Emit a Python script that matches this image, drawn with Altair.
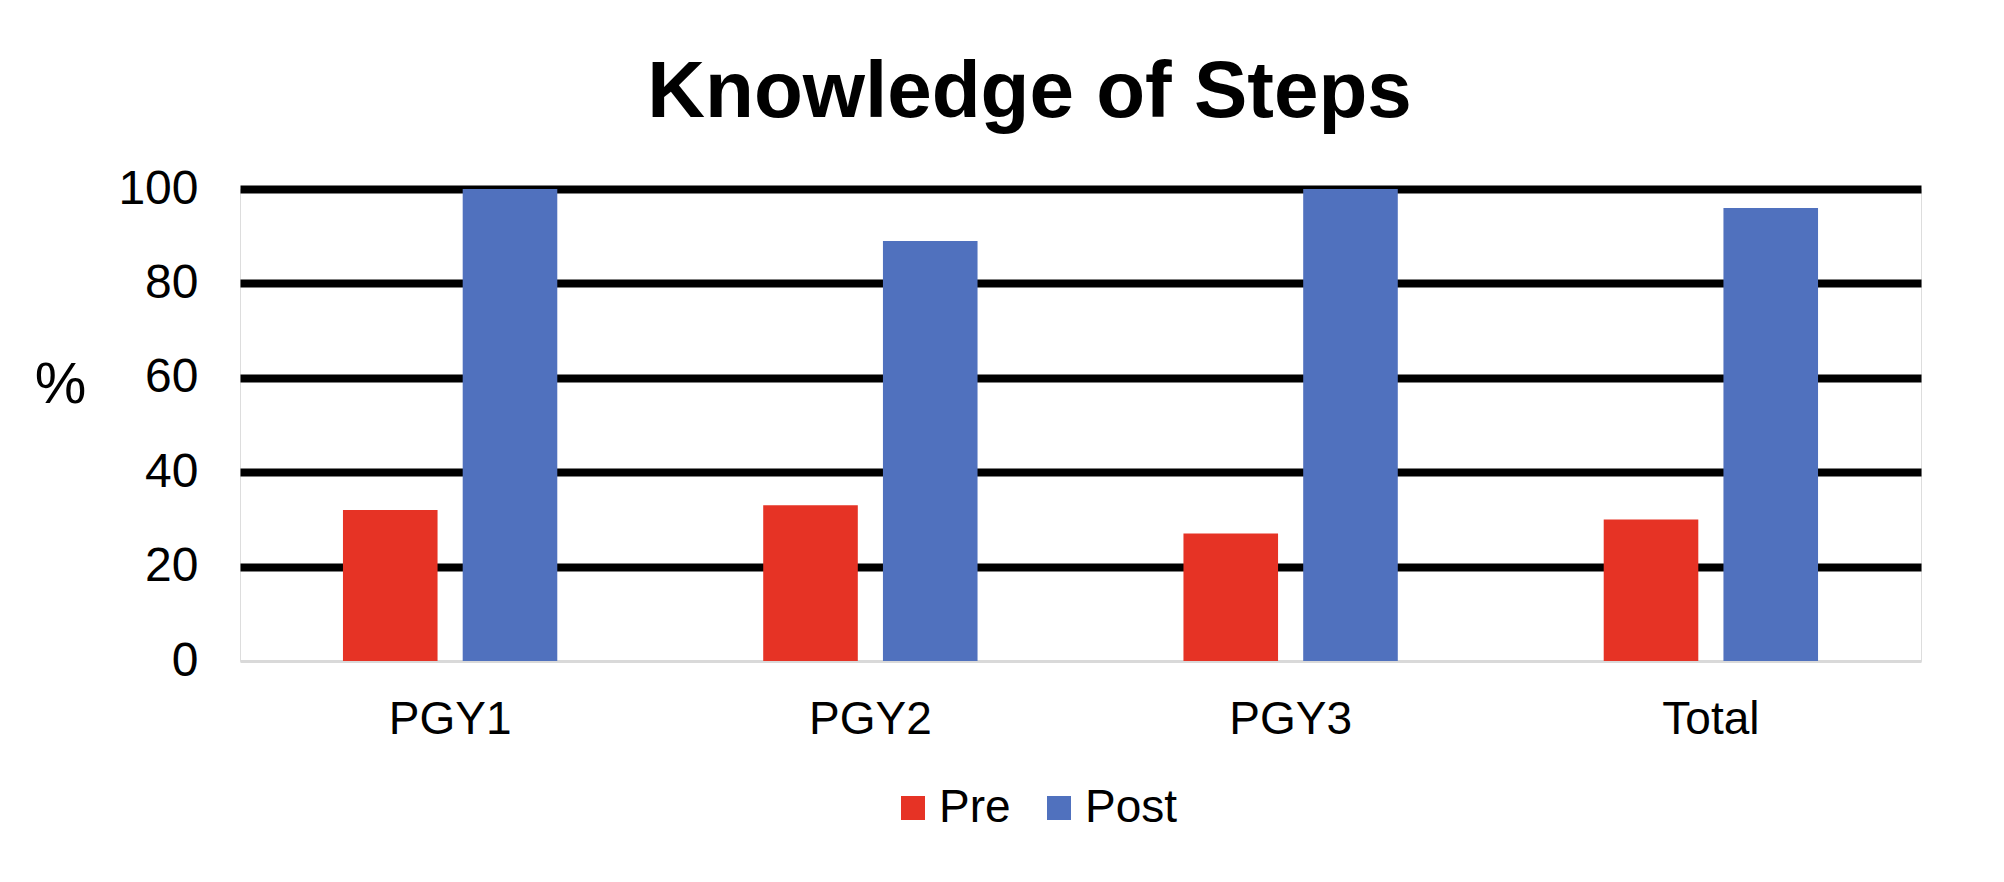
import altair as alt
import pandas as pd

categories = ["PGY1", "PGY2", "PGY3", "Total"]
pre_values = [32, 33, 27, 30]
post_values = [100, 89, 100, 96]
series_names = ["Pre", "Post"]
series_colors = ["#E63325", "#5071BE"]
y_ticks = [0, 20, 40, 60, 80, 100]

rows = []
for c, a, b in zip(categories, pre_values, post_values):
    rows.append({"Group": c, "Series": "Pre", "Value": a})
    rows.append({"Group": c, "Series": "Post", "Value": b})
df = pd.DataFrame(rows)

FONT = "Liberation Sans"

chart = alt.Chart(df).mark_bar().encode(
    x=alt.X("Group:N", sort=categories,
            scale=alt.Scale(paddingInner=0.49, paddingOuter=0.245),
            axis=alt.Axis(title=None, labelAngle=0, labelFontSize=46, labelFont=FONT,
                          labelColor="black", labelPadding=36, ticks=False,
                          domainColor="#d9d9d9", domainWidth=3, grid=False)),
    xOffset=alt.XOffset("Series:N", sort=series_names,
                        scale=alt.Scale(paddingInner=0.21, paddingOuter=0)),
    y=alt.Y("Value:Q", scale=alt.Scale(domain=[0, 100], nice=False),
            axis=alt.Axis(title="%", values=y_ticks, labelFontSize=48, labelFont=FONT,
                          labelColor="black", labelPadding=42, ticks=False, domain=False,
                          grid=True, gridWidth=8,
                          gridColor={"condition": {"test": "datum.value === 0", "value": "transparent"},
                                     "value": "black"},
                          titleAngle=0, titleFontSize=58, titleFont=FONT,
                          titleFontWeight="normal", titleColor="black",
                          titleAlign="center", titleBaseline="middle",
                          titleX=-180, titleY=196)),
    color=alt.Color("Series:N", sort=series_names,
                    scale=alt.Scale(domain=series_names, range=series_colors),
                    legend=alt.Legend(title=None, orient="none", direction="horizontal",
                                      legendX=650, legendY=596,
                                      symbolType="square", symbolSize=576,
                                      symbolStrokeWidth=0, symbolOpacity=1,
                                      labelFontSize=46, labelFont=FONT, labelColor="black",
                                      labelOffset=3, columnPadding=25)),
).properties(
    width=1681,
    height=472,
    title=alt.TitleParams("Knowledge of Steps", font=FONT, fontSize=80, fontWeight="bold",
                          color="black", anchor="middle", frame="group", dx=-51, dy=77,
                          baseline="alphabetic", offset=45),
    autosize=alt.AutoSizeParams(type="none"),
    padding={"left": 232, "top": 181, "right": 60, "bottom": 190},
).configure_view(stroke=None).configure(background="white")

chart.save("out.html", embed_options={"renderer": "svg", "actions": False})
